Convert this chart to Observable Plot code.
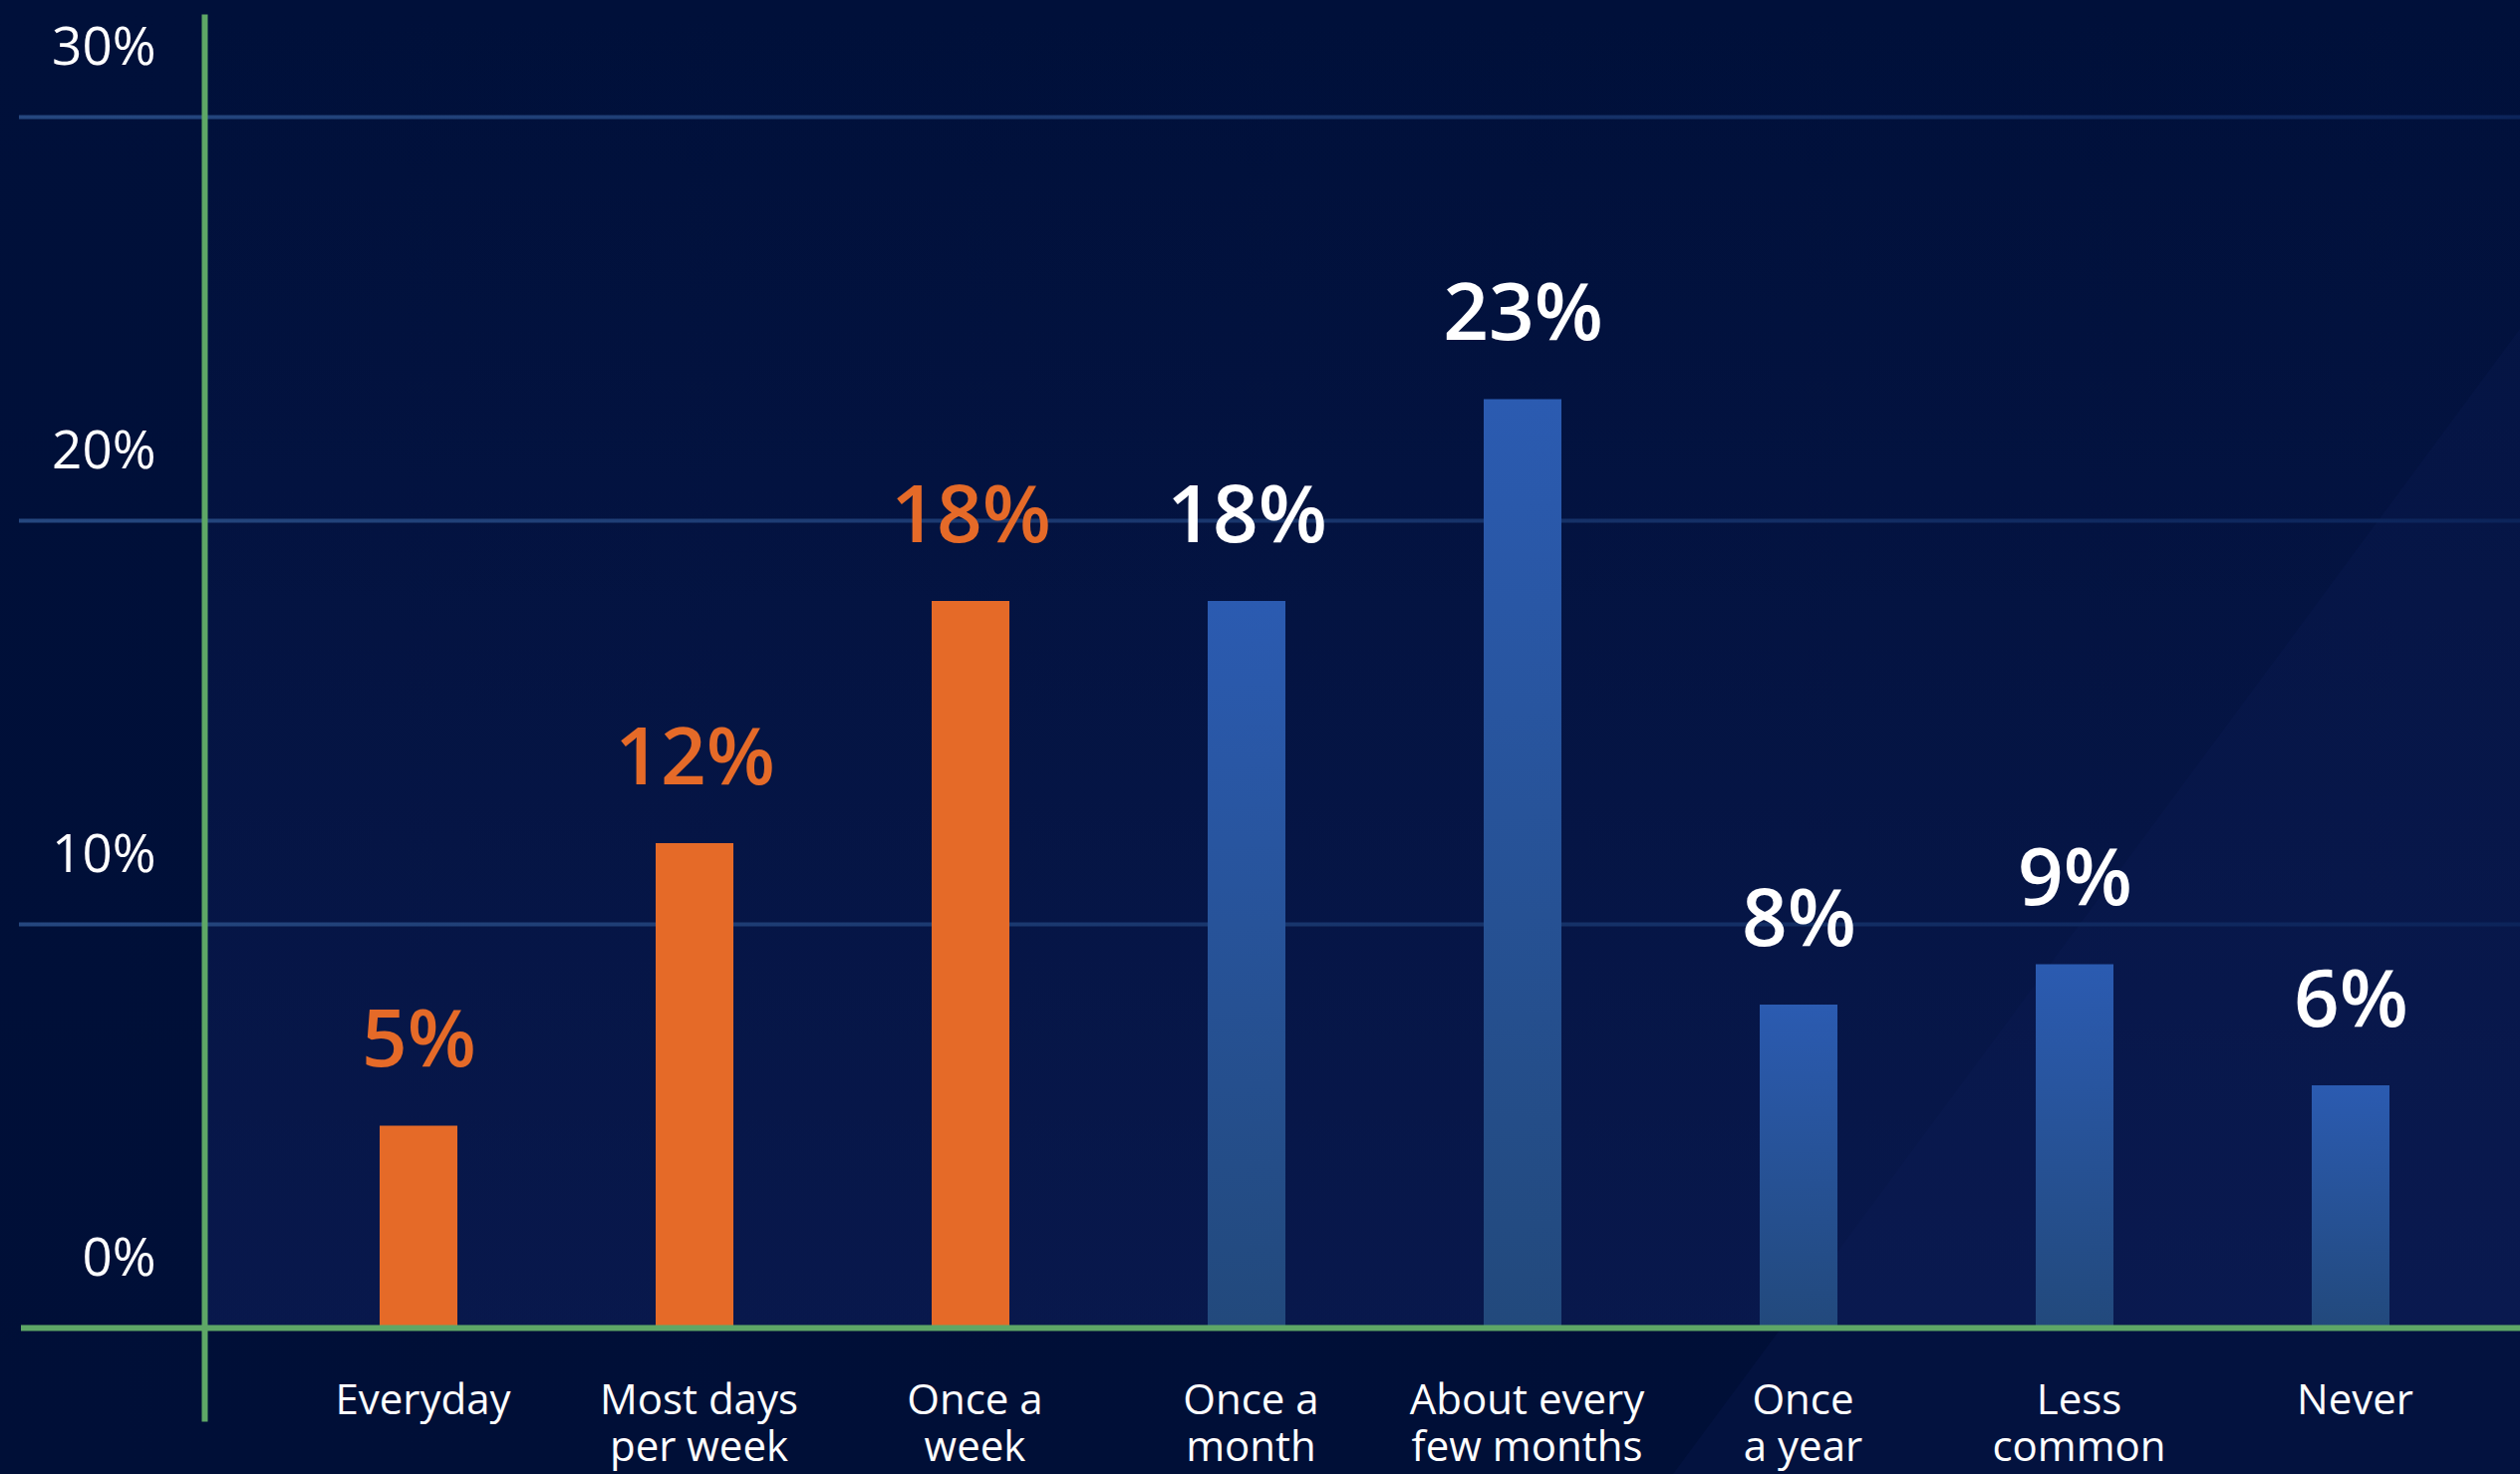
<!DOCTYPE html>
<html>
<head>
<meta charset="utf-8">
<script src="https://cdn.jsdelivr.net/npm/d3@7"></script>
<script src="https://cdn.jsdelivr.net/npm/@observablehq/plot@0.6"></script>
<style>
  html, body { margin: 0; padding: 0; overflow: hidden; }
  body {
    width: 2529px; height: 1479px; position: relative;
    background: linear-gradient(180deg, #00103a 0%, #000f37 100%);
    font-family: "Open Sans", sans-serif;
  }
  #diag {
    position: absolute; left: 0; top: 0; width: 2529px; height: 1479px;
    background: rgba(30, 60, 140, 0.09);
    clip-path: polygon(2529px 330px, 2529px 1479px, 1679px 1479px);
    z-index: 0;
  }
  #chart { position: absolute; left: 0; top: 0; z-index: 1; }
  #chart svg { background: transparent; overflow: visible; }
</style>
</head>
<body>
<div id="diag"></div>
<div id="chart"></div>
<script>
// ---- data ----
const categories = ["Everyday", "Most days per week", "Once a week", "Once a month", "About every few months", "Once a year", "Less common", "Never"];
const axisLabels = ["Everyday", "Most days\nper week", "Once a\nweek", "Once a\nmonth", "About every\nfew months", "Once\na year", "Less\ncommon", "Never"];
const values = [5, 12, 18, 18, 23, 8, 9, 6];
const groups = ["frequent", "frequent", "frequent", "infrequent", "infrequent", "infrequent", "infrequent", "infrequent"];
const yTicks = [0, 10, 20, 30];
const gridTicks = [10, 20, 30];

const rows = categories.map((c, i) => ({category: c, label: axisLabels[i], value: values[i], group: groups[i]}));
const frequent = rows.filter(d => d.group === "frequent");
const infrequent = rows.filter(d => d.group === "infrequent");

const ORANGE = "#e56a28";
const GREEN = "#5ea766";
const WHITE = "#ffffff";

const defs = () => {
  const g = d3.create("svg:defs");
  const b = g.append("linearGradient").attr("id", "blueGrad").attr("x1", 0).attr("y1", 0).attr("x2", 0).attr("y2", 1);
  b.append("stop").attr("offset", "0%").attr("stop-color", "#2b5bb1");
  b.append("stop").attr("offset", "100%").attr("stop-color", "#22497c");
  const p = g.append("linearGradient").attr("id", "plotGrad").attr("x1", 0).attr("y1", 0).attr("x2", 0).attr("y2", 1);
  p.append("stop").attr("offset", "0%").attr("stop-color", "#0e1e5a").attr("stop-opacity", 0);
  p.append("stop").attr("offset", "100%").attr("stop-color", "#0e1e5a").attr("stop-opacity", 0.6);
  const r = g.append("linearGradient").attr("id", "gridGrad").attr("gradientUnits", "userSpaceOnUse")
    .attr("x1", 0).attr("y1", 0).attr("x2", 2529).attr("y2", 0);
  r.append("stop").attr("offset", "0%").attr("stop-color", "#25477f");
  r.append("stop").attr("offset", "100%").attr("stop-color", "#0c245a");
  return g.node();
};

const chart = Plot.plot({
  width: 2529,
  height: 1479,
  marginLeft: 205,
  marginRight: 0,
  marginTop: 17,
  marginBottom: 56,
  style: {background: "transparent", fontFamily: "'Open Sans', sans-serif", color: WHITE},
  x: {type: "band", domain: categories, range: [280, 2499], paddingInner: 0.72, paddingOuter: 0.36, axis: null},
  y: {domain: [0, 30], range: [1332, 117], axis: null},
  marks: [
    defs,
    Plot.frame({fill: "url(#plotGrad)", stroke: null, insetBottom: 91}),
    Plot.ruleY(gridTicks, {stroke: "url(#gridGrad)", strokeWidth: 4, insetLeft: -186}),
    Plot.barY(frequent, {x: "category", y: "value", fill: ORANGE}),
    Plot.barY(infrequent, {x: "category", y: "value", fill: "url(#blueGrad)"}),
    Plot.ruleY([0], {stroke: GREEN, strokeWidth: 6, insetLeft: -184}),
    Plot.frame({anchor: "left", stroke: GREEN, strokeWidth: 6}),
    Plot.text(yTicks, {y: d => d, text: d => d + "%", frameAnchor: "left", textAnchor: "end", dx: -49, dy: -69,
      lineAnchor: "middle", fill: WHITE, fontSize: 53}),
    Plot.text(frequent, {x: "category", y: "value", text: d => d.value + "%", lineAnchor: "bottom", dy: -60,
      fill: ORANGE, fontSize: 80, fontWeight: 600}),
    Plot.text(infrequent, {x: "category", y: "value", text: d => d.value + "%", lineAnchor: "bottom", dy: -60,
      fill: WHITE, fontSize: 80, fontWeight: 600}),
    Plot.text(rows, {x: "category", text: "label", frameAnchor: "bottom", lineAnchor: "top", dy: -38, dx: 4,
      lineHeight: 1.12, fill: WHITE, fontSize: 42})
  ]
});
document.getElementById("chart").appendChild(chart);
</script>
</body>
</html>
